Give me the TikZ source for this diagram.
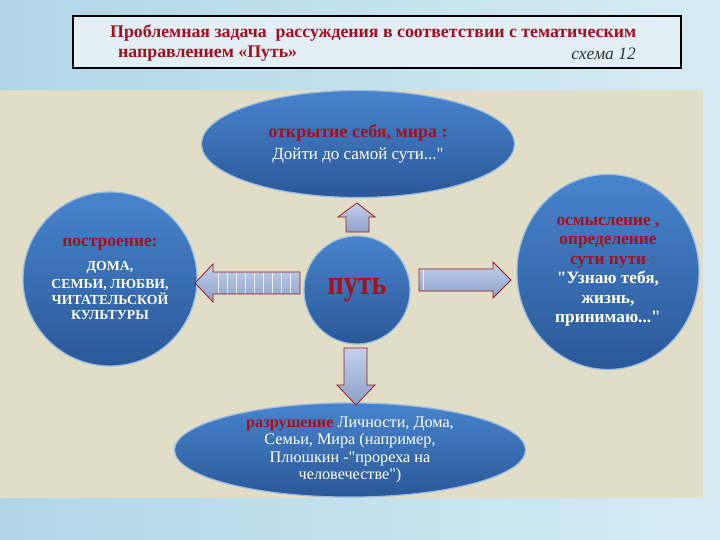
\documentclass[tikz,border=0pt]{standalone}
\usepackage{graphicx}
\usepackage{fontspec}
\setmainfont{Liberation Serif}[Ligatures=TeXOff]
\usetikzlibrary{shapes.geometric}
\definecolor{redtxt}{HTML}{A5101E}
\definecolor{elltop}{RGB}{72,132,205}
\definecolor{ellbot}{RGB}{42,88,152}
\definecolor{ellrim}{RGB}{150,188,226}
\definecolor{arrtop}{RGB}{196,208,236}
\definecolor{arrbot}{RGB}{140,160,200}
\definecolor{arrline}{RGB}{150,28,28}
\definecolor{beige}{RGB}{226,221,199}
\definecolor{bgl}{RGB}{176,214,230}
\definecolor{bgr}{RGB}{214,236,244}
\definecolor{titlefill}{RGB}{226,240,246}
\begin{document}
\begin{tikzpicture}[x=1pt,y=-1pt,
  ell/.style={ellipse, draw=ellrim, line width=1.2pt, top color=elltop, bottom color=ellbot,
    inner sep=0pt, align=center, text=white},
  blockarrow/.style={draw=arrline, line width=0.8pt, top color=arrtop, bottom color=arrbot},
  ttl/.style={anchor=west, text=redtxt, font=\fontsize{17.8}{20}\selectfont\bfseries, inner sep=0pt},
]
\useasboundingbox (0,0) rectangle (720,540);
% background
\shade[left color=bgl, right color=bgr] (0,0) rectangle (720,540);
\fill[beige] (0,90) rectangle (703,498);
% title box
\node[draw=black, line width=1.6pt, fill=titlefill, minimum width=608pt, minimum height=52pt, inner sep=0pt]
  (tbox) at (377,42) {};
\node[ttl] (t1) at (110,33) {Проблемная задача\ \ рассуждения в соответствии с тематическим};
\node[ttl] (t2) at (118,54) {направлением «Путь»};
\node[anchor=east, text=black!80, font=\fontsize{17.5}{20}\selectfont\itshape, inner sep=0pt]
  (t3) at (636,54) {схема 12};
% ellipses
\node[ell, minimum width=313pt, minimum height=107pt, font=\fontsize{17}{22}\selectfont] (top) at (358,144)
  {{\color{redtxt}\bfseries\fontsize{18}{22}\selectfont открытие себя, мира :}\\Дойти до самой сути..."};
\node[ell, minimum width=174pt, minimum height=174pt, font=\fontsize{13.8}{15.5}\selectfont\bfseries] (left) at (110,279)
  {{\color{redtxt}\fontsize{17.5}{18}\selectfont построение:}\\[8pt]ДОМА,\\[3pt]СЕМЬИ, ЛЮБВИ,\\ЧИТАТЕЛЬСКОЙ\\КУЛЬТУРЫ};
\node[ell, minimum width=106pt, minimum height=108pt] (c) at (357,290)
  {\color{redtxt}\bfseries\fontsize{28}{30}\selectfont\scalebox{1}[1.25]{путь}};
\node[ell, minimum width=182pt, minimum height=195pt, font=\fontsize{17.3}{19.5}\selectfont\bfseries] (right) at (608,272)
  {{\color{redtxt}осмысление ,}\\{\color{redtxt}определение}\\{\color{redtxt}сути пути}\rlap{\color{redtxt!45!elltop}\ :}\\"Узнаю тебя,\\жизнь,\\принимаю..."};
\node[ell, minimum width=351pt, minimum height=79pt, font=\fontsize{16.2}{17.5}\selectfont] (bot) at (350,450)
  {{\color{redtxt}\bfseries разрушение} Личности, Дома,\\Семьи, Мира (например,\\Плюшкин -"прореха на\\человечестве")};
% block arrows
\path[blockarrow] (346,232) -- (346,217) -- (338,217) -- (357,203) -- (375,217) -- (369,217) -- (369,232) -- cycle;
\path[blockarrow] (344,348) -- (367,348) -- (367,385) -- (375,385) -- (356,405) -- (337,385) -- (344,385) -- cycle;
\path[blockarrow] (300,272) -- (213,272) -- (213,264) -- (195,283) -- (213,302) -- (213,294) -- (300,294) -- cycle;
\foreach \xx in {218,227,236,245,254,263,272,281,290}
  \draw[white, line width=0.6pt, opacity=0.8] (\xx,273) -- (\xx,293);
\path[blockarrow] (419,269) -- (493,269) -- (493,262) -- (511,280) -- (493,298) -- (493,291) -- (419,291) -- cycle;
\draw[white, line width=0.6pt, opacity=0.8] (423,270) -- (423,290);
\end{tikzpicture}
\end{document}
